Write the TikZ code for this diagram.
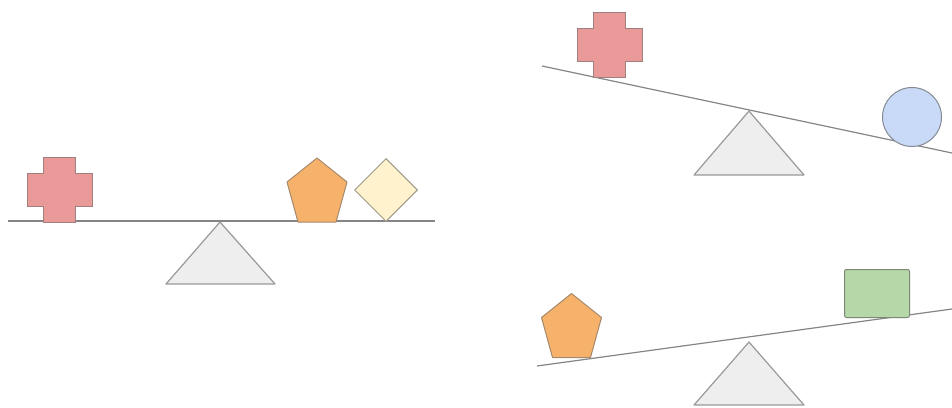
\documentclass[tikz,border=0pt]{standalone}
\usepackage{tikz}
\usetikzlibrary{calc,shapes.geometric}
\definecolor{plusred}{HTML}{EA9999}
\definecolor{pentorange}{HTML}{F6B26B}
\definecolor{diamyellow}{HTML}{FFF2CC}
\definecolor{ballblue}{HTML}{C9DAF8}
\definecolor{boxgreen}{HTML}{B6D7A8}
\definecolor{pivotgray}{HTML}{EEEEEE}
\def\drawbeam{\draw[color=black!48, line width=1.2pt]}
\def\drawpivot{\draw[fill=pivotgray, draw=black!40, line width=1.2pt, line join=round]}
% plus sign around a centre coordinate
\newcommand\drawplus[1]{\draw[fill=plusred, draw=plusred!55!black!75, line width=1pt]
  ($ (#1) + (-16,-32.5) $) -- ++(32,0) -- ++(0,16.5) -- ++(16.5,0) -- ++(0,33)
  -- ++(-16.5,0) -- ++(0,16) -- ++(-32,0) -- ++(0,-16) -- ++(-16.5,0)
  -- ++(0,-33) -- ++(16.5,0) -- cycle;}
% pentagon around a centre coordinate
\newcommand\drawpent[1]{\draw[fill=pentorange, draw=pentorange!55!black!75, line width=1pt, line join=round]
  ($ (#1) + (0,-32) $) -- ($ (#1) + (30,-8) $) -- ($ (#1) + (19,32) $)
  -- ($ (#1) + (-19,32) $) -- ($ (#1) + (-30,-8) $) -- cycle;}

\begin{document}
\begin{tikzpicture}[x=1pt,y=-1pt]
\useasboundingbox (0,0) rectangle (952,407);

% -------- level scale LEFT ---------
\coordinate (pivL) at (220,222); % tip of the left pivot
\coordinate (beamLa) at (8,221);
\coordinate (beamLb) at (435,221);
\drawpivot (pivL) -- ($ (pivL) + (55,62) $) -- ($ (pivL) + (-54,62) $) -- cycle;
\drawbeam (beamLa) -- (beamLb);
\coordinate (plusL) at (59.5,189.5);
\drawplus{plusL}
\coordinate (pentL) at (317,190);
\drawpent{pentL}
\node[diamond, aspect=1, inner sep=0pt, minimum width=63pt, minimum height=63pt,
  fill=diamyellow, draw=diamyellow!50!black!75, line width=1pt] (diamL) at (386,190) {};
% ------ end level scale ------

% -------- scale TOP RIGHT ---------
\coordinate (pivT) at (749,111);
\coordinate (beamTa) at (542,66);
\coordinate (beamTb) at (952,153);
\drawpivot (pivT) -- ($ (pivT) + (55,64) $) -- ($ (pivT) + (-55,64) $) -- cycle;
\drawbeam (beamTa) -- (beamTb);
\coordinate (plusT) at (609.5,44.5);
\drawplus{plusT}
\node[circle, inner sep=0pt, minimum size=59pt, fill=ballblue,
  draw=ballblue!45!black!75, line width=1pt] (ballT) at (912,117) {};
% ------ end top right ------

% -------- scale BOTTOM RIGHT ---------
\coordinate (pivB) at (749,342);
\coordinate (beamBa) at (537,366);
\coordinate (beamBb) at (952,309);
\drawpivot (pivB) -- ($ (pivB) + (55,63) $) -- ($ (pivB) + (-55,63) $) -- cycle;
\drawbeam (beamBa) -- (beamBb);
\coordinate (pentB) at (571.5,325.5);
\drawpent{pentB}
\node[rectangle, rounded corners=2pt, inner sep=0pt, minimum width=65pt, minimum height=48pt,
  fill=boxgreen, draw=boxgreen!45!black!75, line width=1pt] (boxB) at (877,293.5) {};
% ------ end bottom right ------
\end{tikzpicture}
\end{document}
